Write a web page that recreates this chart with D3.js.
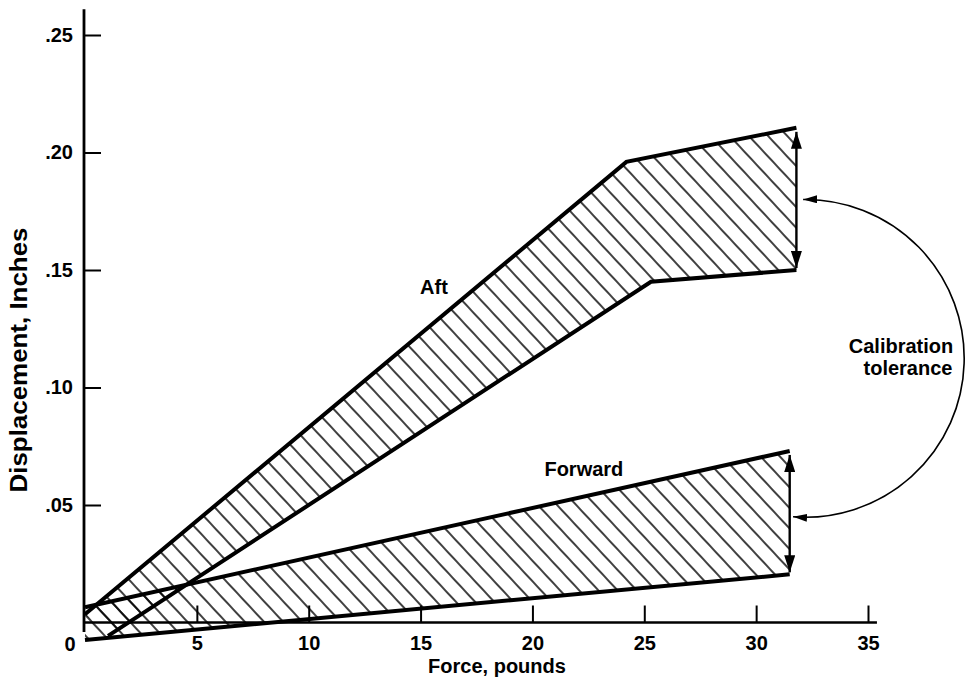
<!DOCTYPE html>
<html>
<head>
<meta charset="utf-8">
<script src="https://cdn.jsdelivr.net/npm/d3@7"></script>
<style>
  html, body { margin: 0; padding: 0; background: #fff; }
  svg text { font-family: "Liberation Sans", Arial, Helvetica, sans-serif; font-weight: bold; fill: #000; }
</style>
</head>
<body>
<svg id="chart" width="969" height="690"></svg>
<script>
// ---- data (force in pounds, displacement in inches) ----
const xTicks = [5, 10, 15, 20, 25, 30, 35];
const yTicks = [0.05, 0.10, 0.15, 0.20, 0.25];
const aftUpper = [[0, 0.0035], [24.2, 0.196], [31.8, 0.2105]];
const aftLower = [[1.03, -0.0057], [25.3, 0.145], [31.8, 0.150]];
const fwdUpper = [[0, 0.0065], [31.5, 0.073]];
const fwdLower = [[0, -0.0074], [31.5, 0.0205]];
const aftTol = { x: 31.8, lo: 0.150, hi: 0.2105 };
const fwdTol = { x: 31.5, lo: 0.0205, hi: 0.073 };
const arcStart = [32.1, 0.18];
const arcEnd = [31.65, 0.045];
const arcRightX = 39.3;
const labels = [
  { text: "Aft", x: 15.6, y: 0.1400 },
  { text: "Forward", x: 22.3, y: 0.0625 },
];
const tolLabel = ["Calibration", "tolerance"];

const svg = d3.select("#chart");
const x = d3.scaleLinear().domain([0, 35]).range([85, 868]);
const y = d3.scaleLinear().domain([0, 0.25]).range([622.5, 35]);

const defs = svg.append("defs");
const hatch = defs.append("pattern")
  .attr("id", "hatch").attr("patternUnits", "userSpaceOnUse")
  .attr("width", 14).attr("height", 14)
  .attr("patternTransform", "rotate(-43)");
hatch.append("line").attr("x1", 7).attr("x2", 7).attr("y1", -1).attr("y2", 15)
  .attr("stroke", "#000").attr("stroke-width", 1.5);

function marker(id, len, wid) {
  defs.append("marker").attr("id", id)
    .attr("markerUnits", "userSpaceOnUse")
    .attr("viewBox", `0 ${-wid/2} ${len} ${wid}`)
    .attr("refX", len).attr("refY", 0)
    .attr("markerWidth", len).attr("markerHeight", wid)
    .attr("orient", "auto-start-reverse")
    .append("path").attr("d", `M0,${-wid/2}L${len},0L0,${wid/2}Z`).attr("fill", "#000");
}
marker("bigArrow", 17, 11);
marker("smallArrow", 14, 8);

const line = d3.line().x(d => x(d[0])).y(d => y(d[1]));

// hatched bands
function band(up, lo) {
  return line(up.concat(lo.slice().reverse())) + "Z";
}
svg.append("path").attr("d", band(aftUpper, aftLower)).attr("fill", "url(#hatch)");
svg.append("path").attr("d", band(fwdUpper, fwdLower)).attr("fill", "url(#hatch)");

// axes
const gx = svg.append("g").attr("transform", `translate(0,${y(0)})`)
  .call(d3.axisBottom(x).tickValues(xTicks).tickSizeInner(-17).tickSizeOuter(0).tickPadding(13).tickFormat(d3.format("d")));
gx.select(".domain").remove();
gx.selectAll(".tick line").attr("stroke", "#000").attr("stroke-width", 2);
gx.selectAll(".tick text").attr("font-size", 20).style("font-family", "Liberation Sans, Arial, sans-serif").style("font-weight", "bold");

const gy = svg.append("g").attr("transform", `translate(${x(0) - 1},0)`)
  .call(d3.axisLeft(y).tickValues(yTicks).tickSizeInner(-17).tickSizeOuter(0).tickPadding(11)
    .tickFormat(d => d3.format(".2f")(d).replace(/^0/, "")));
gy.select(".domain").remove();
gy.selectAll(".tick line").attr("stroke", "#000").attr("stroke-width", 2);
gy.selectAll(".tick text").attr("font-size", 20).style("font-family", "Liberation Sans, Arial, sans-serif").style("font-weight", "bold");

svg.append("line").attr("x1", x(0) - 1).attr("x2", x(0) - 1)
  .attr("y1", y(0.261)).attr("y2", y(-0.004)).attr("stroke", "#000").attr("stroke-width", 2.8);
svg.append("line").attr("x1", x(0) - 1).attr("x2", x(35.4))
  .attr("y1", y(0)).attr("y2", y(0)).attr("stroke", "#000").attr("stroke-width", 2.6);

svg.append("text").attr("x", x(0) - 15).attr("y", y(0) + 28).attr("text-anchor", "middle")
  .attr("font-size", 20).text("0");

// band boundary lines
[aftUpper, aftLower, fwdUpper, fwdLower].forEach(d => {
  svg.append("path").attr("d", line(d)).attr("fill", "none")
    .attr("stroke", "#000").attr("stroke-width", 4).attr("stroke-linejoin", "miter");
});

// tolerance arrows
[aftTol, fwdTol].forEach(t => {
  svg.append("line").attr("x1", x(t.x)).attr("x2", x(t.x))
    .attr("y1", y(t.hi) + 4).attr("y2", y(t.lo) - 2)
    .attr("stroke", "#000").attr("stroke-width", 2.4)
    .attr("marker-start", "url(#bigArrow)").attr("marker-end", "url(#bigArrow)");
});

// curved arrow (large arc bulging to the right)
const x0 = x(arcStart[0]), y0 = y(arcStart[1]), x1 = x(arcEnd[0]), y1 = y(arcEnd[1]);
const halfChord = Math.hypot(x1 - x0, y1 - y0) / 2;
const bulge = x(arcRightX) - (x0 + x1) / 2;
const r = (bulge * bulge + halfChord * halfChord) / (2 * bulge);
svg.append("path")
  .attr("d", `M${x0},${y0} A${r},${r} 0 1 1 ${x1},${y1}`)
  .attr("fill", "none").attr("stroke", "#000").attr("stroke-width", 1.6)
  .attr("marker-start", "url(#smallArrow)").attr("marker-end", "url(#smallArrow)");

// labels
labels.forEach(l => {
  svg.append("text").attr("x", x(l.x)).attr("y", y(l.y)).attr("text-anchor", "middle")
    .attr("font-size", 20).text(l.text);
});
svg.append("text").attr("x", 901).attr("y", 353).attr("text-anchor", "middle").attr("font-size", 20).text(tolLabel[0]);
svg.append("text").attr("x", 908).attr("y", 375).attr("text-anchor", "middle").attr("font-size", 20).text(tolLabel[1]);

// axis titles
svg.append("text").attr("x", 497).attr("y", 673).attr("text-anchor", "middle")
  .attr("font-size", 20).text("Force, pounds");
svg.append("text").attr("transform", "translate(27,360) rotate(-90)").attr("text-anchor", "middle")
  .attr("font-size", 24).attr("textLength", 265).attr("lengthAdjust", "spacingAndGlyphs")
  .text("Displacement, Inches");
</script>
</body>
</html>
